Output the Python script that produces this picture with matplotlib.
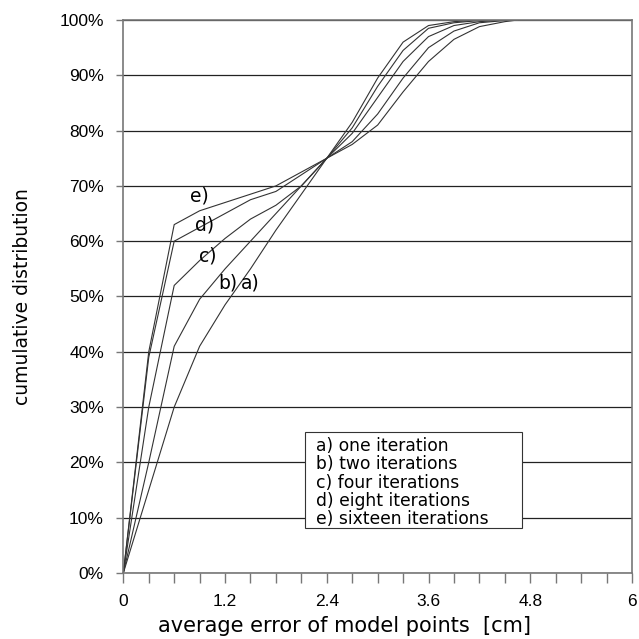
import matplotlib
matplotlib.use('Agg')
import matplotlib.pyplot as plt
from matplotlib.patches import Rectangle

# average error [cm] and cumulative distribution [%] for each run
fehler = [0, 0.3, 0.6, 0.9, 1.2, 1.5, 1.8, 2.1, 2.4, 2.7, 3.0, 3.3, 3.6, 3.9, 4.2, 4.5, 4.65]
eins = [0, 15, 30, 41, 48.5, 55, 62, 68.5, 75, 81.5, 89.5, 96, 99, 99.7, 100, 100, 100]
zwei = [0, 20, 41, 49.5, 55, 60, 65, 70, 75, 80.5, 88, 94.5, 98.5, 99.5, 99.9, 100, 100]
vier = [0, 30, 52, 56.5, 60.5, 64, 66.5, 70, 75, 79.5, 86, 92.5, 97, 99, 99.7, 100, 100]
acht = [0, 39, 60, 62.5, 65, 67.5, 69, 72, 75, 78, 83, 89.5, 95, 98, 99.5, 99.9, 100]
sechzehn = [0, 40, 63, 65.5, 67, 68.5, 70, 72.5, 75, 77.5, 81, 87, 92.5, 96.5, 98.8, 99.7, 100]

kurz = ['a)', 'b)', 'c)', 'd)', 'e)']
namen = ['a) one iteration', 'b) two iterations', 'c) four iterations',
         'd) eight iterations', 'e) sixteen iterations']

fig = plt.figure(figsize=(6.39, 6.39), dpi=100)
ax = fig.add_axes([0.193, 0.1033, 0.796, 0.8654])

for werte in [eins, zwei, vier, acht, sechzehn]:
    ax.plot(fehler, werte, color='#333333', linewidth=0.8, zorder=2)

# Kurzbeschriftungen an den Kurven
pos = [(1.5, 52.4), (1.23, 52.4), (1.0, 57.3), (0.96, 62.9), (0.9, 68.2)]
for k, (px, py) in zip(kurz, pos):
    ax.text(px, py, k, fontsize=13.5, ha='center', va='center', family='DejaVu Sans')

# Legendenkasten
ax.add_patch(Rectangle((0.357, 0.081), 0.427, 0.174, transform=ax.transAxes,
                       facecolor='white', edgecolor='#333333', linewidth=0.8, zorder=3))
for i, name in enumerate(namen):
    ax.text(0.378, 0.2297 - i * 0.0331, name, transform=ax.transAxes, fontsize=12.3,
            va='center', ha='left', family='DejaVu Sans', zorder=4)

ax.set_xlim(0, 6)
ax.set_ylim(0, 100)
ax.set_xticks([0, 1.2, 2.4, 3.6, 4.8, 6])
ax.set_xticklabels(['0', '1.2', '2.4', '3.6', '4.8', '6'])
ax.set_xticks([i * 0.3 for i in range(21)], minor=True)
ax.set_yticks(range(0, 101, 10))
ax.set_yticklabels([f'{v}%' for v in range(0, 101, 10)])

for lab in ax.get_xticklabels() + ax.get_yticklabels():
    lab.set_family('Liberation Sans')
    lab.set_fontsize(12.5)

ax.tick_params(axis='x', which='both', direction='out', length=7, width=1, color='#777777', pad=8)
ax.tick_params(axis='y', direction='out', length=5, width=1, color='#777777', pad=9)

ax.yaxis.grid(True, color='#222222', linewidth=0.9)
ax.set_axisbelow(True)
for s in ['left', 'bottom', 'right', 'top']:
    ax.spines[s].set_color('#777777')
    ax.spines[s].set_linewidth(1.2)

ax.set_xlabel('average error of model points  [cm]', fontsize=15, family='DejaVu Sans', labelpad=5)
ax.xaxis.label.set_x(0.434)
ax.set_ylabel('cumulative distribution', fontsize=13.5, family='DejaVu Sans', labelpad=20)

fig.savefig('out.png', dpi=100, facecolor='white')
